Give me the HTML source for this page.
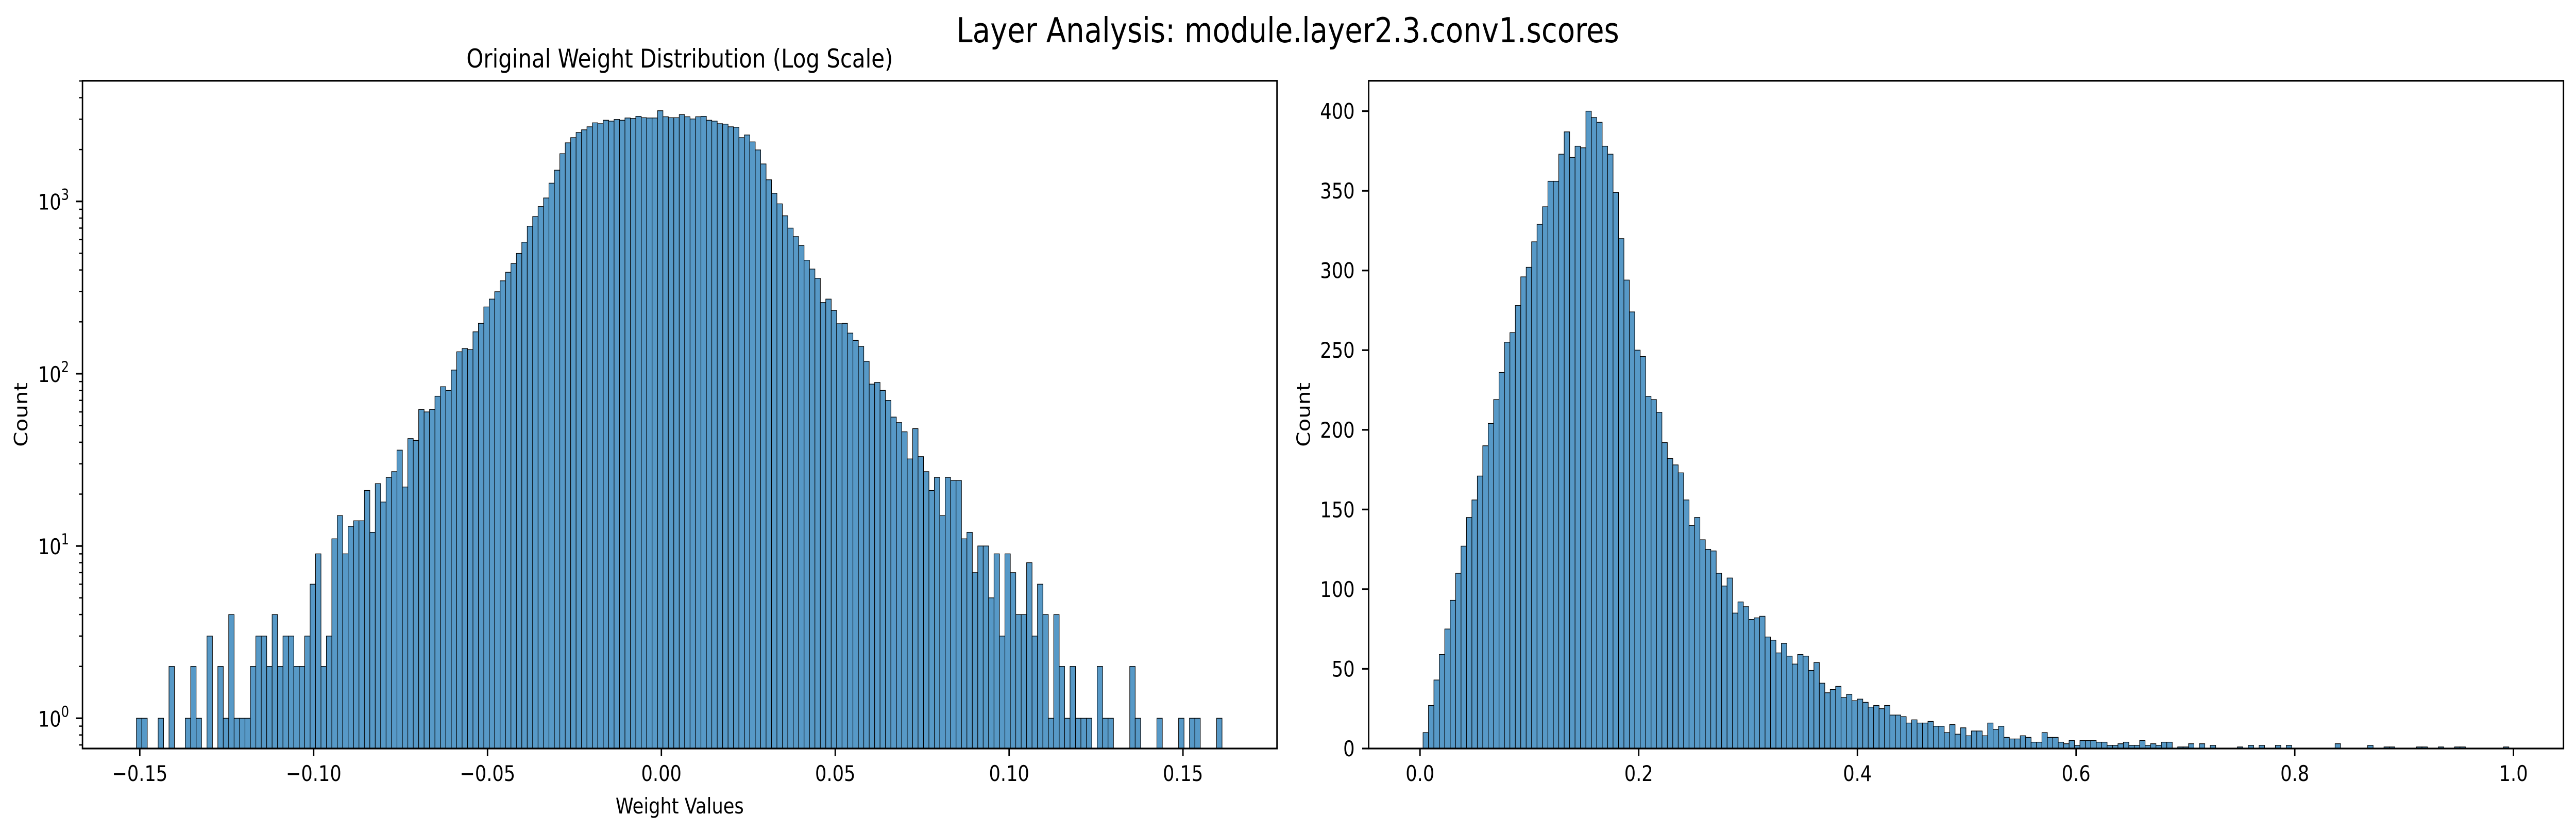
<!DOCTYPE html>
<html>
<head>
<meta charset="utf-8">
<meta name="viewport" content="width=5965, initial-scale=1">
<style>
  html, body { margin: 0; padding: 0; background: #ffffff; overflow: hidden; width: 100vw; height: 100vh; }
  svg { display: block; width: 100vw; height: 100vh; }
  text { font-family: "DejaVu Sans", "Liberation Sans", sans-serif; fill: #000; }
</style>
</head>
<body>
<svg id="fig" xmlns="http://www.w3.org/2000/svg" viewBox="0 0 5965 1612" preserveAspectRatio="none">
  <rect x="0" y="0" width="5965" height="1612" fill="#ffffff"/>
  <text x="2982" y="82" font-size="67" text-anchor="middle">Layer Analysis: module.layer2.3.conv1.scores</text>
  <g id="left"></g>
  <g id="right"></g>
</svg>
<script>
// ---------------- data ----------------
const leftBinStart = -0.15097;
const leftBinWidth = 0.001561;
const leftCounts = [
  1,1,0,0,1,0,2,0,0,1,
  2,1,0,3,0,2,1,4,1,1,
  1,2,3,3,2,4,2,3,3,2,
  2,3,6,9,2,3,11,15,9,13,
  14,14,21,12,23,18,25,27,36,22,
  42,41,62,60,62,74,84,80,105,134,
  140,138,175,196,244,271,299,346,388,
  436,499,580,718,817,933,1047,1276,1518,1892,
  2188,2345,2513,2604,2711,2858,2825,2959,2925,2990,
  2959,3050,3030,3118,3060,3050,3050,3360,3100,3060,
  3060,3190,3100,3010,3100,3118,2959,2925,2825,2810,
  2711,2695,2345,2430,2215,1990,1650,1335,1115,968,
  825,700,625,555,456,405,358,259,271,233,
  195,196,172,156,144,118,87,89,80,
  70,56,52,46,32,48,33,27,21,25,15,25,24,24,11,12,7,10,10,5,9,3,9,7,4,4,8,3,6,4,1,
  4,2,1,2,1,1,1,0,2,1,
  1,0,0,0,2,1,0,0,0,1,
  0,0,0,1,0,1,1,0,0,0,
  1
];
const leftXTicks = [-0.15, -0.10, -0.05, 0.00, 0.05, 0.10, 0.15];
const leftXTickLabels = ["\u22120.15", "\u22120.10", "\u22120.05", "0.00", "0.05", "0.10", "0.15"];
const leftYDecades = [0, 1, 2, 3];

const rightBinStart = 0.00276;
const rightBinWidth = 0.004965;
const rightCounts = [
  10,27,43,59,75,93,110,127,145,156,
  171,190,204,219,236,255,261,278,296,302,
  318,329,340,356,356,373,387,371,378,377,
  400,396,393,378,373,349,320,294,274,250,
  246,221,219,211,192,182,178,173,156,140,
  145,131,125,124,110,102,107,85,92,89,
  81,82,83,70,68,60,66,58,53,59,
  58,49,54,41,35,37,39,32,34,30,
  31,29,26,27,25,27,21,21,20,16,
  18,16,16,17,14,14,10,15,9,13,
  8,11,11,8,16,12,14,7,6,6,
  8,7,4,4,10,7,7,4,3,5,
  2,5,5,5,4,4,2,2,3,4,
  2,2,5,2,3,2,4,4,0,1,
  1,3,0,3,0,2,0,0,0,0,
  1,0,2,0,2,0,0,2,0,2,
  0,0,0,0,0,0,0,0,3,0,
  0,0,0,0,2,0,0,1,1,0,
  0,0,0,1,1,0,0,1,0,0,
  1,1,0,0,0,0,0,0,0,1
];
const rightXTicks = [0.0, 0.2, 0.4, 0.6, 0.8, 1.0];
const rightXTickLabels = ["0.0", "0.2", "0.4", "0.6", "0.8", "1.0"];
const rightYTicks = [0, 50, 100, 150, 200, 250, 300, 350, 400];

// ---------------- layout ----------------
const NS = "http://www.w3.org/2000/svg";
const BAR_FILL = "#5799c7";
const LA = { x0: 191, x1: 2957, y0: 156.7, y1: 1452 };
const RA = { x0: 3169.3, x1: 5936, y0: 156.7, y1: 1452 };
const lx = v => 1531.5 + v * 8052;
const ly = c => 1393.3 - 334.2 * Math.log10(c);
const rx = v => 3288.2 + v * 2532;
const ry = c => 1452 - c * 3.091;

function mk(tag, attrs, parent) {
  const el = document.createElementNS(NS, tag);
  for (const k in attrs) el.setAttribute(k, attrs[k]);
  parent.appendChild(el);
  return el;
}

function drawFrame(g, A) {
  const r = mk("rect", { x: A.x0, y: A.y0, width: A.x1 - A.x0, height: A.y1 - A.y0, fill: "none", stroke: "#000", "stroke-width": 3.3 }, g);
  
  
}

// ---------------- left chart ----------------
const gl = document.getElementById("left");
const lbars = mk("g", {}, gl);


leftCounts.forEach((c, i) => {
  if (c <= 0) return;
  const xa = lx(leftBinStart + i * leftBinWidth);
  const xb = lx(leftBinStart + (i + 1) * leftBinWidth);
  const yt = ly(c);
  const b = mk("rect", { x: xa, y: yt, width: xb - xa, height: LA.y1 - yt, fill: BAR_FILL, stroke: "#000", "stroke-width": 1.3 }, lbars);
  
  
});
drawFrame(gl, LA);
leftXTicks.forEach((v, i) => {
  const x = lx(v);
  const t = mk("line", { x1: x, y1: LA.y1, x2: x, y2: LA.y1 + 15, stroke: "#000", "stroke-width": 3.3 }, gl);
  
  
  const tx = mk("text", { x: x, y: 1515, "font-size": 42, "text-anchor": "middle" }, gl);
  tx.textContent = leftXTickLabels[i];
  
  
});
leftYDecades.forEach(k => {
  const y = ly(Math.pow(10, k));
  const t = mk("line", { x1: LA.x0 - 15, y1: y, x2: LA.x0, y2: y, stroke: "#000", "stroke-width": 3.3 }, gl);
  
  
  const tx = mk("text", { x: 160, y: y + 16, "font-size": 42, "text-anchor": "end" }, gl);
  
  
  const base = document.createElementNS(NS, "tspan");
  base.textContent = "10";
  tx.appendChild(base);
  const sup = document.createElementNS(NS, "tspan");
  sup.setAttribute("font-size", "29");
  sup.setAttribute("dy", "-19");
  sup.textContent = String(k);
  tx.appendChild(sup);
});
for (let k = -1; k <= 3; k++) {
  for (let m = 2; m <= 9; m++) {
    const c = m * Math.pow(10, k);
    const y = ly(c);
    if (y < LA.y0 || y > LA.y1) continue;
    const t = mk("line", { x1: LA.x0 - 8, y1: y, x2: LA.x0, y2: y, stroke: "#000", "stroke-width": 2.5 }, gl);
    
    
  }
}
const lt = mk("text", { x: (LA.x0 + LA.x1) / 2, y: 131, "font-size": 50, "text-anchor": "middle" }, gl);
lt.textContent = "Original Weight Distribution (Log Scale)";


const lxl = mk("text", { x: (LA.x0 + LA.x1) / 2, y: 1578, "font-size": 42, "text-anchor": "middle" }, gl);
lxl.textContent = "Weight Values";


const lyl = mk("text", { x: 0, y: 0, "font-size": 42, "text-anchor": "middle", transform: "translate(63," + ((LA.y0 + LA.y1) / 2) + ") rotate(-90)" }, gl);
lyl.textContent = "Count";



// ---------------- right chart ----------------
const gr = document.getElementById("right");
const rbars = mk("g", {}, gr);


rightCounts.forEach((c, i) => {
  const xa = rx(rightBinStart + i * rightBinWidth);
  const xb = rx(rightBinStart + (i + 1) * rightBinWidth);
  const yt = ry(c);
  const b = mk("rect", { x: xa, y: yt, width: xb - xa, height: RA.y1 - yt, fill: BAR_FILL, stroke: "#000", "stroke-width": 1.3 }, rbars);
  
  
});
drawFrame(gr, RA);
rightXTicks.forEach((v, i) => {
  const x = rx(v);
  const t = mk("line", { x1: x, y1: RA.y1, x2: x, y2: RA.y1 + 15, stroke: "#000", "stroke-width": 3.3 }, gr);
  
  
  const tx = mk("text", { x: x, y: 1515, "font-size": 42, "text-anchor": "middle" }, gr);
  tx.textContent = rightXTickLabels[i];
  
  
});
rightYTicks.forEach(v => {
  const y = ry(v);
  const t = mk("line", { x1: RA.x0 - 15, y1: y, x2: RA.x0, y2: y, stroke: "#000", "stroke-width": 3.3 }, gr);
  
  
  const tx = mk("text", { x: 3137, y: y + 15, "font-size": 42, "text-anchor": "end" }, gr);
  tx.textContent = String(v);
  
  
});
const ryl = mk("text", { x: 0, y: 0, "font-size": 42, "text-anchor": "middle", transform: "translate(3033," + ((RA.y0 + RA.y1) / 2) + ") rotate(-90)" }, gr);
ryl.textContent = "Count";


</script>
</body>
</html>
